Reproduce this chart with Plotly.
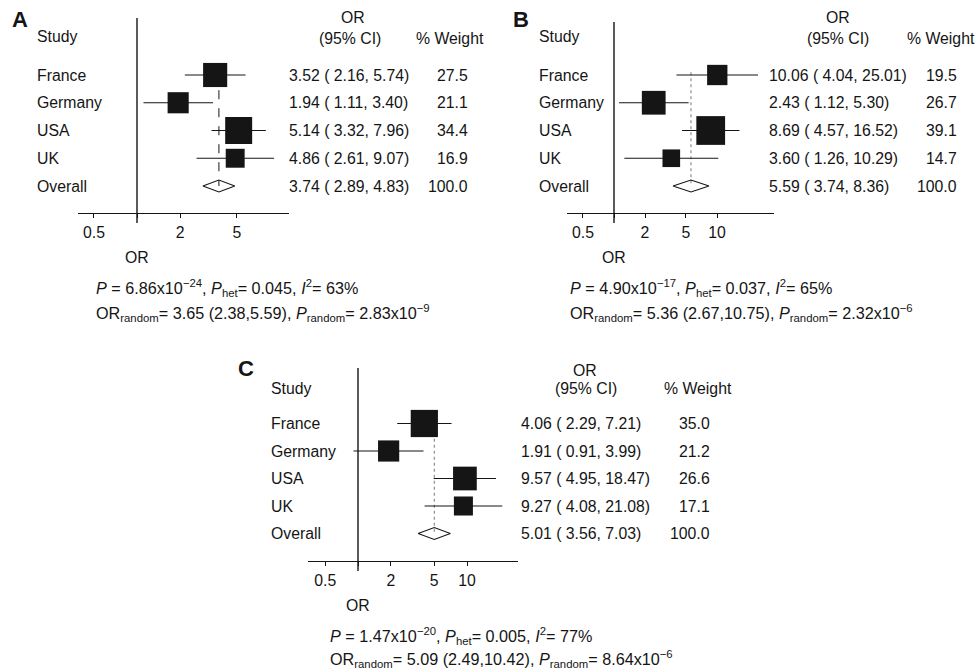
import plotly.graph_objects as go

# ---------------- data ----------------
studies = ["France", "Germany", "USA", "UK"]

a_or = [3.52, 1.94, 5.14, 4.86]
a_lo = [2.16, 1.11, 3.32, 2.61]
a_hi = [5.74, 3.40, 7.96, 9.07]
a_wt = [27.5, 21.1, 34.4, 16.9]
a_overall = [3.74, 2.89, 4.83]

b_or = [10.06, 2.43, 8.69, 3.60]
b_lo = [4.04, 1.12, 4.57, 1.26]
b_hi = [25.01, 5.30, 16.52, 10.29]
b_wt = [19.5, 26.7, 39.1, 14.7]
b_overall = [5.59, 3.74, 8.36]

c_or = [4.06, 1.91, 9.57, 9.27]
c_lo = [2.29, 0.91, 4.95, 4.08]
c_hi = [7.21, 3.99, 18.47, 21.08]
c_wt = [35.0, 21.2, 26.6, 17.1]
c_overall = [5.01, 3.56, 7.03]

a_ticks = [0.5, 1, 2, 5]
a_ticktext = ["0.5", "", "2", "5"]
bc_ticks = [0.5, 1, 2, 5, 10]
bc_ticktext = ["0.5", "", "2", "5", "10"]

a_stats = ["<i>P</i> = 6.86x10<sup>\u221224</sup>, <i>P</i><sub>het</sub>= 0.045, <i>I</i><sup>2</sup>= 63%",
           "OR<sub>random</sub>= 3.65 (2.38,5.59), <i>P</i><sub>random</sub>= 2.83x10<sup>\u22129</sup>"]
b_stats = ["<i>P</i> = 4.90x10<sup>\u221217</sup>, <i>P</i><sub>het</sub>= 0.037, <i>I</i><sup>2</sup>= 65%",
           "OR<sub>random</sub>= 5.36 (2.67,10.75), <i>P</i><sub>random</sub>= 2.32x10<sup>\u22126</sup>"]
c_stats = ["<i>P</i> = 1.47x10<sup>\u221220</sup>, <i>P</i><sub>het</sub>= 0.005, <i>I</i><sup>2</sup>= 77%",
           "OR<sub>random</sub>= 5.09 (2.49,10.42), <i>P</i><sub>random</sub>= 8.64x10<sup>\u22126</sup>"]

# ---------------- layout geometry (pixels) ----------------
W, H = 976, 670
FONT = "Liberation Sans, Arial, Helvetica, sans-serif"
FS = 15.8
FS_STATS = 16.2
INK = "#151515"

panels = [
    dict(letter="A", orv=a_or, lo=a_lo, hi=a_hi, wt=a_wt, ov=a_overall, ticks=a_ticks, ticktext=a_ticktext,
         stats=a_stats, xdom=(78, 289), or1=137, ppd=143, ytop=18, yaxis=213, row1=75, step=27.75,
         study=37, labx=35, valx=287, wright=470, orhdr=(353, 18), cihdr=(350, 38), wthdr=(450, 38),
         let=(20, 20), ortitle=(137, 257), statx=94, staty=(288, 313), dash="dash", refcol=INK, refw=1.0),
    dict(letter="B", orv=b_or, lo=b_lo, hi=b_hi, wt=b_wt, ov=b_overall, ticks=bc_ticks, ticktext=bc_ticktext,
         stats=b_stats, xdom=(567, 774), or1=614, ppd=103, ytop=22, yaxis=213, row1=75, step=27.75,
         study=37, labx=537, valx=767, wright=959, orhdr=(838, 18), cihdr=(838, 38), wthdr=(941, 38),
         let=(521, 20), ortitle=(614, 257), statx=568, staty=(288, 313), dash="dot", refcol="#555555", refw=0.8),
    dict(letter="C", orv=c_or, lo=c_lo, hi=c_hi, wt=c_wt, ov=c_overall, ticks=bc_ticks, ticktext=bc_ticktext,
         stats=c_stats, xdom=(308, 518), or1=358, ppd=109, ytop=368, yaxis=561, row1=423.5, step=27.5,
         study=388, labx=269, valx=519, wright=712, orhdr=(585, 370), cihdr=(586, 388), wthdr=(698, 388),
         let=(246, 368), ortitle=(358, 605), statx=328, staty=(636, 659), dash="dot", refcol="#555555", refw=0.8),
]

def px(x):
    return x / W

def py(y):
    return 1 - y / H

fig = go.Figure()
annotations = []
shapes = []
layout_axes = {}

def ann(text, x, y, xanchor="left", size=FS, bold=False):
    annotations.append(dict(text=("<b>%s</b>" % text) if bold else text, x=px(x), y=py(y),
                            xref="paper", yref="paper", xanchor=xanchor, yanchor="middle",
                            showarrow=False, font=dict(family=FONT, size=size, color=INK)))

for i, p in enumerate(panels):
    n = "" if i == 0 else str(i + 1)
    xa, ya = "x" + n, "y" + n
    yval = lambda pix, p=p: 1 + (pix - p["row1"]) / p["step"]
    rows = [1, 2, 3, 4]
    ovrow = 5

    # CI lines
    cx, cy = [], []
    for lo, hi, r in zip(p["lo"], p["hi"], rows):
        cx += [lo, hi, None]
        cy += [r, r, None]
    fig.add_trace(go.Scatter(x=cx, y=cy, mode="lines", line=dict(color=INK, width=1.1),
                             xaxis=xa, yaxis=ya, showlegend=False, hoverinfo="skip"))
    # weighted squares
    fig.add_trace(go.Scatter(x=p["orv"], y=rows, mode="markers",
                             marker=dict(symbol="square", color=INK, opacity=1, line=dict(width=0),
                                         size=[4.6 * w ** 0.5 for w in p["wt"]]),
                             xaxis=xa, yaxis=ya, showlegend=False))
    # overall diamond
    est, lo, hi = p["ov"]
    hh = 6 / p["step"]
    fig.add_trace(go.Scatter(x=[lo, est, hi, est, lo], y=[ovrow, ovrow - hh, ovrow, ovrow + hh, ovrow],
                             mode="lines", line=dict(color=INK, width=1.1),
                             xaxis=xa, yaxis=ya, showlegend=False, hoverinfo="skip"))

    # axes
    x0d, x1d = p["xdom"]
    lrange = [(x0d - p["or1"]) / p["ppd"], (x1d - p["or1"]) / p["ppd"]]
    layout_axes["xaxis" + n] = dict(type="log", domain=[px(x0d), px(x1d)], range=lrange, anchor=ya,
                                    showline=True, linecolor=INK, linewidth=1.4, showgrid=False, zeroline=False,
                                    ticks="outside", ticklen=4, tickwidth=1.2, tickcolor=INK,
                                    tickvals=p["ticks"], ticktext=p["ticktext"], ticklabelstandoff=1,
                                    tickfont=dict(family=FONT, size=FS, color=INK), fixedrange=True)
    layout_axes["yaxis" + n] = dict(domain=[py(p["yaxis"]), py(p["ytop"])],
                                    range=[yval(p["yaxis"]), yval(p["ytop"])], anchor=xa,
                                    visible=False, showgrid=False, zeroline=False, fixedrange=True)

    # vertical OR = 1 line
    shapes.append(dict(type="line", xref=xa, yref="paper", x0=1, x1=1,
                       y0=py(p["ytop"]), y1=py(p["yaxis"] + 10), line=dict(color=INK, width=1.4)))
    # overall reference line
    shapes.append(dict(type="line", xref=xa, yref=ya, x0=est, x1=est, y0=0.9, y1=ovrow,
                       layer="below", line=dict(color=p["refcol"], width=p["refw"], dash=p["dash"])))

    # texts
    ann(p["letter"], p["let"][0], p["let"][1], xanchor="center", size=22, bold=True)
    ann("Study", p["labx"], p["study"])
    ann("OR", p["orhdr"][0], p["orhdr"][1], xanchor="center")
    ann("(95% CI)", p["cihdr"][0], p["cihdr"][1], xanchor="center")
    ann("% Weight", p["wthdr"][0], p["wthdr"][1], xanchor="center")
    labels = studies + ["Overall"]
    allor = p["orv"] + [est]
    alllo = p["lo"] + [lo]
    allhi = p["hi"] + [hi]
    allwt = p["wt"] + [100.0]
    for k in range(5):
        ypix = p["row1"] + k * p["step"]
        ann(labels[k], p["labx"], ypix)
        ann("%.2f ( %.2f, %.2f)" % (allor[k], alllo[k], allhi[k]), p["valx"], ypix)
        ann("%.1f" % allwt[k], p["wright"], ypix, xanchor="right")
    ann("OR", p["ortitle"][0], p["ortitle"][1], xanchor="center")
    ann(p["stats"][0], p["statx"], p["staty"][0], size=FS_STATS)
    ann(p["stats"][1], p["statx"], p["staty"][1], size=FS_STATS)

fig.update_layout(width=W, height=H, margin=dict(l=0, r=0, t=0, b=0), autosize=False,
                  paper_bgcolor="white", plot_bgcolor="rgba(0,0,0,0)", showlegend=False,
                  annotations=annotations, shapes=shapes, font=dict(family=FONT, size=FS, color=INK),
                  **layout_axes)
fig.write_html("out.html", config={"displayModeBar": False})
